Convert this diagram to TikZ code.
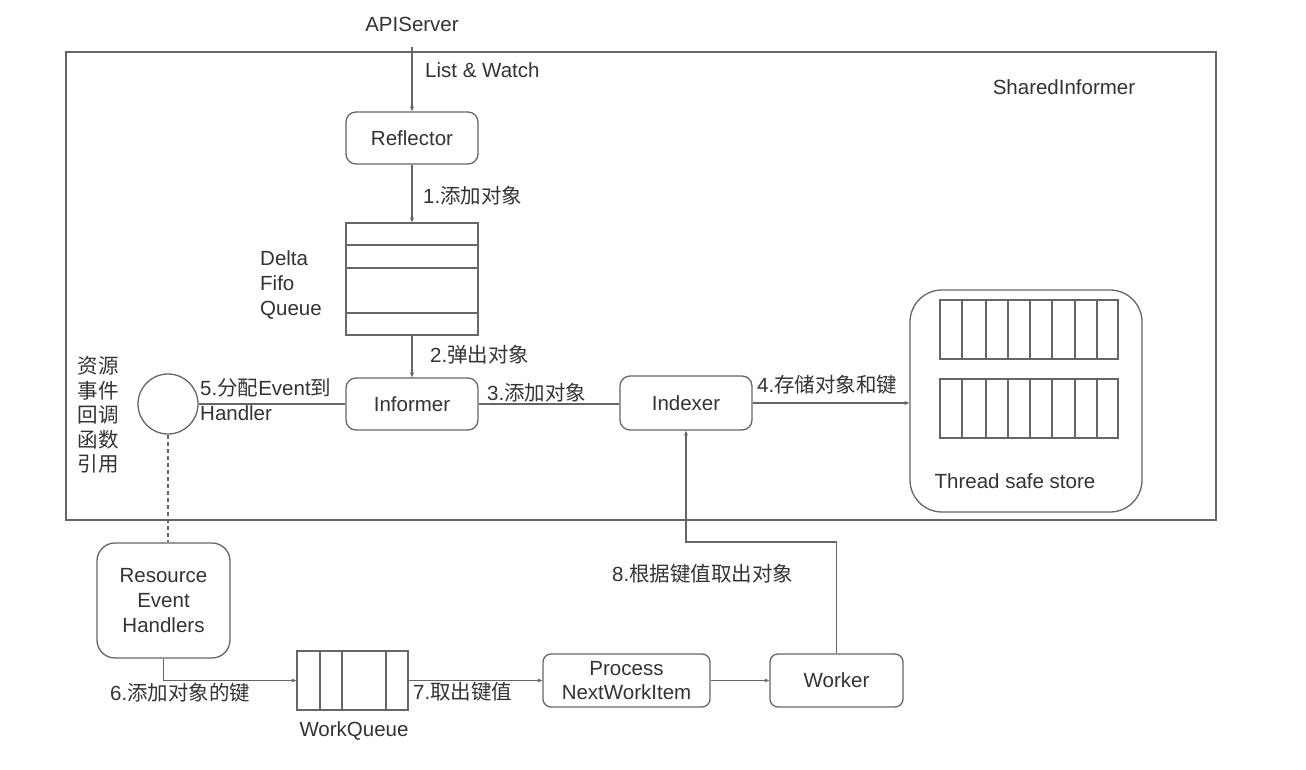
\documentclass[tikz,border=0pt]{standalone}
\usepackage{fontspec}
\setmainfont{Liberation Sans}
\newfontfamily\cjk{Noto Sans CJK SC}
\usetikzlibrary{arrows.meta,calc}
\definecolor{ln}{HTML}{666666}
\definecolor{tx}{HTML}{333333}
\tikzset{
  box/.style={draw=ln,line width=1.3pt,rounded corners=10pt,minimum width=132pt,minimum height=52pt,inner sep=0pt,align=center,text=tx},
  lbl/.style={text=tx,inner sep=0pt,align=left},
  wire/.style={draw=ln,line width=1.3pt},
  arr/.style={wire,-{Stealth[length=5pt,width=4pt]}},
}
\begin{document}
\begin{tikzpicture}[x=1pt,y=-1pt,font=\fontsize{20.5}{25}\selectfont]
\useasboundingbox (0,0) rectangle (1306,770);
% outer SharedInformer frame
\draw[wire] (66,52) rectangle (1216,520);
\node[lbl] (shared) at (1064,87) {SharedInformer};
\node[lbl] (api) at (412,24) {APIServer};
\coordinate (apiout) at (412,47);
% Reflector
\node[box] (refl) at (412,138) {Reflector};
% Delta FIFO queue
\node[draw=ln,line width=1.3pt,minimum width=132pt,minimum height=112pt,inner sep=0pt] (queue) at (412,279) {};
\draw[wire] (346,245) -- (478,245) (346,268) -- (478,268) (346,313) -- (478,313);
\node[lbl,anchor=west] (qlbl) at (260,285) {Delta\\Fifo\\Queue};
% Informer, Indexer
\node[box] (inf) at (412,404) {Informer};
\node[box,minimum height=54pt] (idx) at (686,403) {Indexer};
% store
\node[draw=ln,line width=1.3pt,rounded corners=32pt,minimum width=232pt,minimum height=222pt,inner sep=0pt] (store) at (1026,401) {};
\foreach \y in {300,379}{
  \draw[wire] (940,\y) rectangle (1118,\y+59);
  \foreach \x in {962,986,1008,1030,1052,1075,1097}{
    \draw[wire] (\x,\y) -- (\x,\y+59);
  }
}
\node[lbl] (storelbl) at (1015,481) {Thread safe store};
% circle and side text
\node[draw=ln,line width=1.3pt,circle,minimum size=60pt,inner sep=0pt] (circ) at (168,404) {};
\node[lbl,align=center,font=\cjk\fontsize{20.5}{24.5}\selectfont] (side) at (98,415) {资源\\事件\\回调\\函数\\引用};
% Resource Event Handlers
\node[box,rounded corners=18pt,minimum width=133pt,minimum height=115pt] (reh) at (163.5,600.5) {Resource\\Event\\Handlers};
% WorkQueue
\node[draw=ln,line width=1.3pt,minimum width=111pt,minimum height=59pt,inner sep=0pt] (wq) at (352.5,680.5) {};
\draw[wire] (320,651) -- (320,710) (342,651) -- (342,710) (386,651) -- (386,710);
\node[lbl] (wqlbl) at (354,731) {WorkQueue};
% Process and Worker
\node[box,rounded corners=8pt,minimum width=167pt,minimum height=53pt] (proc) at (626.5,680.5) {Process\\[-1pt]NextWorkItem};
\node[box,rounded corners=8pt,minimum width=133pt,minimum height=53pt] (worker) at (836.5,680.5) {Worker};
% connectors
\draw[arr] (apiout) -- (refl.north);
\node[lbl,anchor=west] (lw) at (425,70) {List \& Watch};
\draw[arr] (refl.south) -- (queue.north);
\node[lbl,anchor=west] (l1) at (423,196) {1.{\cjk 添加对象}};
\draw[arr] (queue.south) -- (inf.north);
\node[lbl,anchor=west] (l2) at (430,355) {2.{\cjk 弹出对象}};
\draw[wire] (circ.east) -- (inf.west);
\node[lbl,anchor=west] (l5a) at (200,388) {5.{\cjk 分配}Event{\cjk 到}};
\node[lbl,anchor=west] (l5b) at (200,413) {Handler};
\draw[wire] (inf.east) -- (inf.east -| idx.west);
\node[lbl,anchor=west] (l3) at (487,393) {3.{\cjk 添加对象}};
\draw[arr] (idx.east) -- (idx.east -| store.west);
\node[lbl,anchor=west] (l4) at (757,385) {4.{\cjk 存储对象和键}};
\draw[wire,dashed,dash pattern=on 4pt off 3pt] (circ.south) -- (circ.south |- reh.north);
\draw[arr] (reh.south) |- (wq.west);
\node[lbl,anchor=west] (l6) at (110,693) {6.{\cjk 添加对象的键}};
\draw[arr] (wq.east) -- (proc.west);
\node[lbl,anchor=west] (l7) at (413,692) {7.{\cjk 取出键值}};
\draw[arr] (proc.east) -- (worker.west);
\coordinate (bend) at (686,542);
\draw[arr] (worker.north) |- (bend) -- (idx.south);
\node[lbl,anchor=west] (l8) at (612,574) {8.{\cjk 根据键值取出对象}};
\end{tikzpicture}
\end{document}
